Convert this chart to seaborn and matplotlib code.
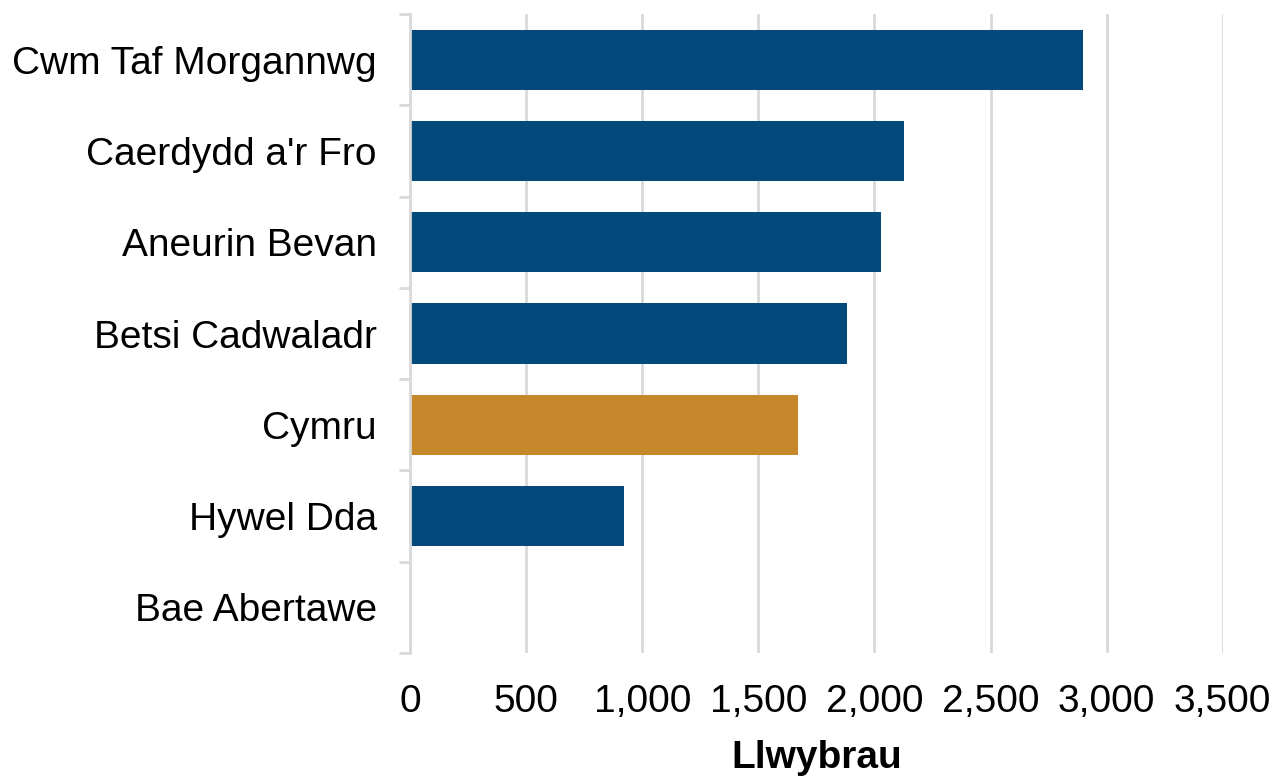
import matplotlib
matplotlib.use("Agg")
import matplotlib.pyplot as plt
import pandas as pd
import seaborn as sns
from matplotlib.ticker import FuncFormatter, FixedLocator

# Data
regions = [
    "Cwm Taf Morgannwg",
    "Caerdydd a'r Fro",
    "Aneurin Bevan",
    "Betsi Cadwaladr",
    "Cymru",
    "Hywel Dda",
    "Bae Abertawe",
]
pathways = [2897, 2127, 2030, 1882, 1670, 922, 0]

BLUE = "#034a7c"
ORANGE = "#c6862a"
palette = {r: (ORANGE if r == "Cymru" else BLUE) for r in regions}

df = pd.DataFrame({"region": regions, "value": pathways})

sns.set_theme(style="white")
plt.rcParams["font.family"] = ["Liberation Sans", "DejaVu Sans"]

fig, ax = plt.subplots(figsize=(12.72, 7.76), dpi=100)
fig.subplots_adjust(left=410 / 1272, right=1222.7 / 1272, top=1 - 14 / 776, bottom=1 - 653 / 776)

sns.barplot(
    data=df, x="value", y="region", hue="region", palette=palette,
    order=regions, legend=False, width=0.66, linewidth=0, saturation=1, ax=ax,
)

ax.set_xlim(0, 3500)
ax.set_ylim(len(regions) - 0.5, -0.5)
ax.set_xticks(range(0, 3501, 500))
ax.xaxis.set_major_formatter(FuncFormatter(lambda v, p: f"{int(v):,}"))
ax.grid(axis="x", color="#d9d9d9", linewidth=2)
ax.set_axisbelow(True)

for s in ["top", "right", "bottom"]:
    ax.spines[s].set_visible(False)
ax.spines["left"].set_color("#d9d9d9")
ax.spines["left"].set_linewidth(2)

fs = 28
ax.tick_params(axis="x", length=0, pad=22, labelsize=fs, labelcolor="black")
ax.tick_params(axis="y", which="major", length=0, pad=24, labelsize=fs, labelcolor="black")
ax.yaxis.set_minor_locator(FixedLocator([i - 0.5 for i in range(len(regions) + 1)]))
ax.tick_params(axis="y", which="minor", left=True, length=8, width=2, color="#d9d9d9")

ax.set_ylabel("")
ax.set_xlabel("Llwybrau", fontsize=fs, fontweight="bold", labelpad=15, color="black")

fig.savefig("out.png", dpi=100)
